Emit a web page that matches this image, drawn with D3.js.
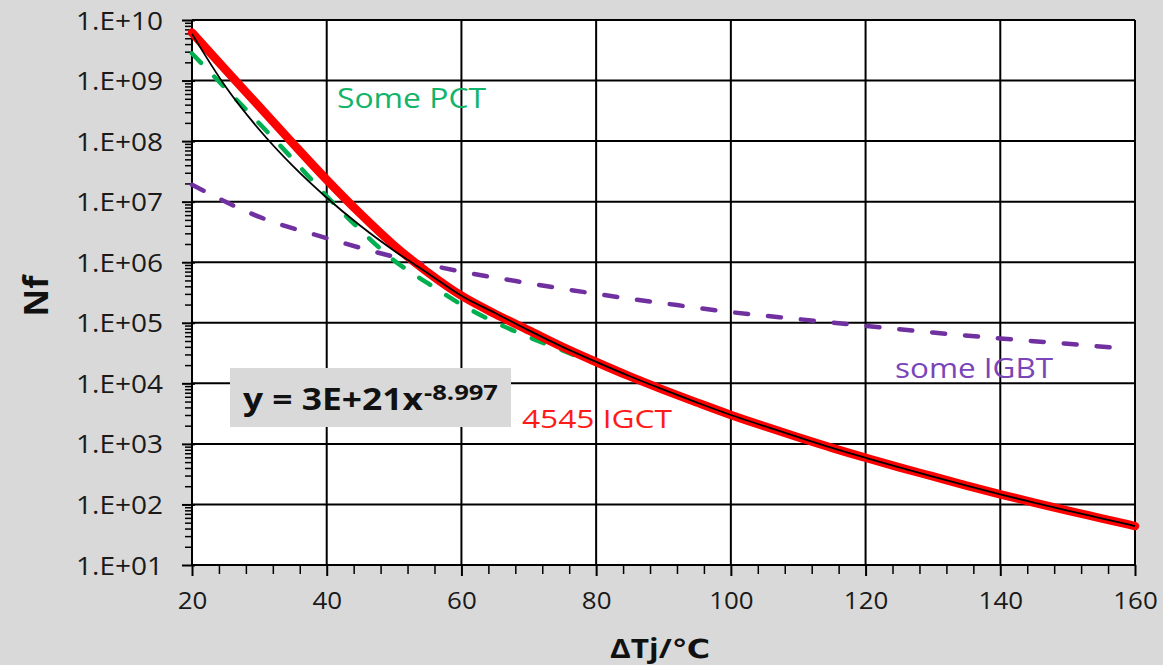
<!DOCTYPE html>
<html><head><meta charset="utf-8">
<script src="https://cdn.jsdelivr.net/npm/d3@7"></script>
<style>
html,body{margin:0;padding:0;background:#d9d9d9;overflow:hidden;}
svg{display:block;}
text{font-family:"Open Sans","DejaVu Sans",sans-serif;}
</style></head><body>
<svg id="c" width="1163" height="665"></svg>
<script>
// ---- data ----
const xTickValues = [20, 40, 60, 80, 100, 120, 140, 160];
const yTickValues = [1e1, 1e2, 1e3, 1e4, 1e5, 1e6, 1e7, 1e8, 1e9, 1e10];
const yTickLabels = ["1.E+01","1.E+02","1.E+03","1.E+04","1.E+05","1.E+06","1.E+07","1.E+08","1.E+09","1.E+10"];

const igctX = [20,25,30,35,40,45,50,55,60,65,70,75,80,85,90,95,100,105,110,115,120,125,130,135,140,145,150,155,160];
const igctY = [6.2e9,1.5e9,3.7e8,9.1e7,2.3e7,6.3e6,1.9e6,6.8e5,2.8e5,1.4e5,7.5e4,4.0e4,2.25e4,1.3e4,7.8e3,4.8e3,3.0e3,1.95e3,1.29e3,8.6e2,5.9e2,4.1e2,2.9e2,2.05e2,1.47e2,1.07e2,7.9e1,5.9e1,4.4e1];

const fitX = [20,25,30,35,40,45,50,55,60,65,70,75,80,85,90,95,100,105,110,115,120,125,130,135,140,145,150,155,160];
const fitY = [5.9e9,7.9e8,1.54e8,3.85e7,1.16e7,4.0e6,1.55e6,6.6e5,2.8e5,1.45e5,7.5e4,4.0e4,2.26e4,1.31e4,7.85e3,4.8e3,3.0e3,1.96e3,1.29e3,8.6e2,5.9e2,4.1e2,2.87e2,2.04e2,1.47e2,1.07e2,7.9e1,5.9e1,4.4e1];

const pctX = [20,25,30,35,40,45,50,55,60,65,70,75,80,85,90,100,110,120,130,140,150,160];
const pctY = [2.8e9,7.4e8,1.95e8,5.0e7,1.23e7,3.4e6,1.07e6,4.5e5,2.0e5,1.02e5,5.8e4,3.5e4,2.1e4,1.26e4,7.6e3,3.0e3,1.3e3,6.0e2,2.95e2,1.5e2,8.3e1,4.6e1];

const igbtX = [20,30,40,50,60,70,80,90,100,110,120,130,140,150,158];
const igbtY = [1.9e7,5.6e6,2.5e6,1.23e6,7.0e5,4.5e5,3.0e5,2.1e5,1.5e5,1.15e5,8.9e4,6.9e4,5.5e4,4.5e4,3.8e4];

const labelPCT = "Some PCT";
const labelIGCT = "4545 IGCT";
const labelIGBT = "some IGBT";
const eqMain = "y = 3E+21x";
const eqExp = "-8.997";
const xTitle = "ΔTj/℃";
const yTitle = "Nf";

// ---- layout ----
const L = 192, R = 1135, T = 20, B = 565;
const svg = d3.select("#c");
const x = d3.scaleLinear().domain([20, 160]).range([L, R]);
const y = d3.scaleLog().domain([1e1, 1e10]).range([B, T]);

svg.append("rect").attr("x", 0).attr("y", 0).attr("width", 1163).attr("height", 665).attr("fill", "#d9d9d9");
svg.append("rect").attr("x", L).attr("y", T).attr("width", R - L).attr("height", B - T).attr("fill", "#ffffff");

// gridlines
const grid = svg.append("g");
grid.selectAll(".gx").data(xTickValues).join("line")
  .attr("x1", d => x(d)).attr("x2", d => x(d)).attr("y1", T).attr("y2", B)
  .attr("stroke", "#000").attr("stroke-width", 2);
grid.selectAll(".gy").data(yTickValues).join("line")
  .attr("x1", L).attr("x2", R).attr("y1", d => y(d)).attr("y2", d => y(d))
  .attr("stroke", "#000").attr("stroke-width", 2);

// minor ticks
const yMinor = [];
for (let k = 1; k < 10; k++) for (let m = 2; m <= 9; m++) yMinor.push(m * Math.pow(10, k));
const xMinor = d3.range(20, 161, 4).filter(v => (v - 20) % 20 !== 0);

const yMinorAxis = d3.axisLeft(y).tickValues(yMinor).tickSize(7).tickFormat("");
svg.append("g").attr("transform", `translate(${L},0)`).call(yMinorAxis)
  .call(g => g.select(".domain").remove())
  .call(g => g.selectAll("line").attr("stroke", "#000").attr("stroke-width", 1.5));

const xMinorAxis = d3.axisBottom(x).tickValues(xMinor).tickSize(9).tickFormat("");
svg.append("g").attr("transform", `translate(0,${B})`).call(xMinorAxis)
  .call(g => g.select(".domain").remove())
  .call(g => g.selectAll("line").attr("stroke", "#000").attr("stroke-width", 1.5));

// major axes
const yAxis = d3.axisLeft(y).tickValues(yTickValues).tickSize(10).tickPadding(18)
  .tickFormat((d, i) => yTickLabels[yTickValues.indexOf(d)]);
const gy = svg.append("g").attr("transform", `translate(${L},0)`).call(yAxis);
gy.select(".domain").attr("stroke", "#000").attr("stroke-width", 2).attr("d", `M0,${T}V${B}`);
gy.selectAll(".tick line").attr("stroke", "#000").attr("stroke-width", 2).attr("x2", -10).attr("x1", 3);
gy.selectAll(".tick text").attr("fill", "#1a1a1a").style("font-size", "25px").attr("dy", "0.36em").attr("x", -29);

const xAxis = d3.axisBottom(x).tickValues(xTickValues).tickSize(11).tickPadding(16).tickFormat(d => d);
const gx = svg.append("g").attr("transform", `translate(0,${B})`).call(xAxis);
gx.select(".domain").attr("stroke", "#000").attr("stroke-width", 2).attr("d", `M${L},0H${R}`);
gx.selectAll(".tick line").attr("stroke", "#000").attr("stroke-width", 2);
gx.selectAll(".tick text").attr("fill", "#1a1a1a").style("font-size", "24px").attr("dy", "0.71em");

// series
const line = d3.line().x(d => x(d[0])).y(d => y(d[1])).curve(d3.curveMonotoneX);
const zip = (a, b) => a.map((v, i) => [v, b[i]]);

svg.append("path").datum(zip(igbtX, igbtY)).attr("d", line)
  .attr("fill", "none").attr("stroke", "#7030a0").attr("stroke-width", 4.5)
  .attr("stroke-dasharray", "13,20").attr("stroke-linecap", "round");
svg.append("path").datum(zip(pctX, pctY)).attr("d", line)
  .attr("fill", "none").attr("stroke", "#00b050").attr("stroke-width", 4.5)
  .attr("stroke-dasharray", "13,19").attr("stroke-linecap", "round");
svg.append("path").datum(zip(igctX, igctY)).attr("d", line)
  .attr("fill", "none").attr("stroke", "#ff0000").attr("stroke-width", 8.5)
  .attr("stroke-linecap", "round").attr("stroke-linejoin", "round");
svg.append("path").datum(zip(fitX, fitY)).attr("d", line)
  .attr("fill", "none").attr("stroke", "#000").attr("stroke-width", 1.8);

// labels
function fitW(sel, w) { sel.attr("textLength", w).attr("lengthAdjust", "spacingAndGlyphs"); return sel; }
function stretch(sel, f) {
  sel.each(function () { const n = this.getComputedTextLength(); d3.select(this).attr("textLength", n * f).attr("lengthAdjust", "spacingAndGlyphs"); });
}
fitW(svg.append("text").attr("x", 337).attr("y", 108).text(labelPCT)
  .attr("fill", "#12b36a").style("font-size", "27px"), 149);
fitW(svg.append("text").attr("x", 522).attr("y", 428).text(labelIGCT)
  .attr("fill", "#ff1a1a").style("font-size", "26px"), 150);
fitW(svg.append("text").attr("x", 895).attr("y", 378).text(labelIGBT)
  .attr("fill", "#7a45b8").style("font-size", "27px"), 158);

// equation box
svg.append("rect").attr("x", 230).attr("y", 368).attr("width", 281).attr("height", 59).attr("fill", "#d9d9d9");
fitW(svg.append("text").attr("x", 243).attr("y", 410).text(eqMain)
  .attr("fill", "#111").style("font-size", "30px").style("font-weight", "bold"), 180);
fitW(svg.append("text").attr("x", 424).attr("y", 400).text(eqExp)
  .attr("fill", "#111").style("font-size", "21px").style("font-weight", "bold"), 74);

// axis titles
svg.append("text").attr("transform", "translate(48,296) rotate(-90)").attr("text-anchor", "middle")
  .text(yTitle).attr("fill", "#111").style("font-size", "34px").style("font-weight", "bold");
fitW(svg.append("text").attr("x", 610).attr("y", 658).text(xTitle)
  .attr("fill", "#111").style("font-size", "26px").style("font-weight", "bold"), 100);

stretch(gy.selectAll(".tick text"), 1.12);
stretch(gx.selectAll(".tick text"), 1.08);
</script>
</body></html>
